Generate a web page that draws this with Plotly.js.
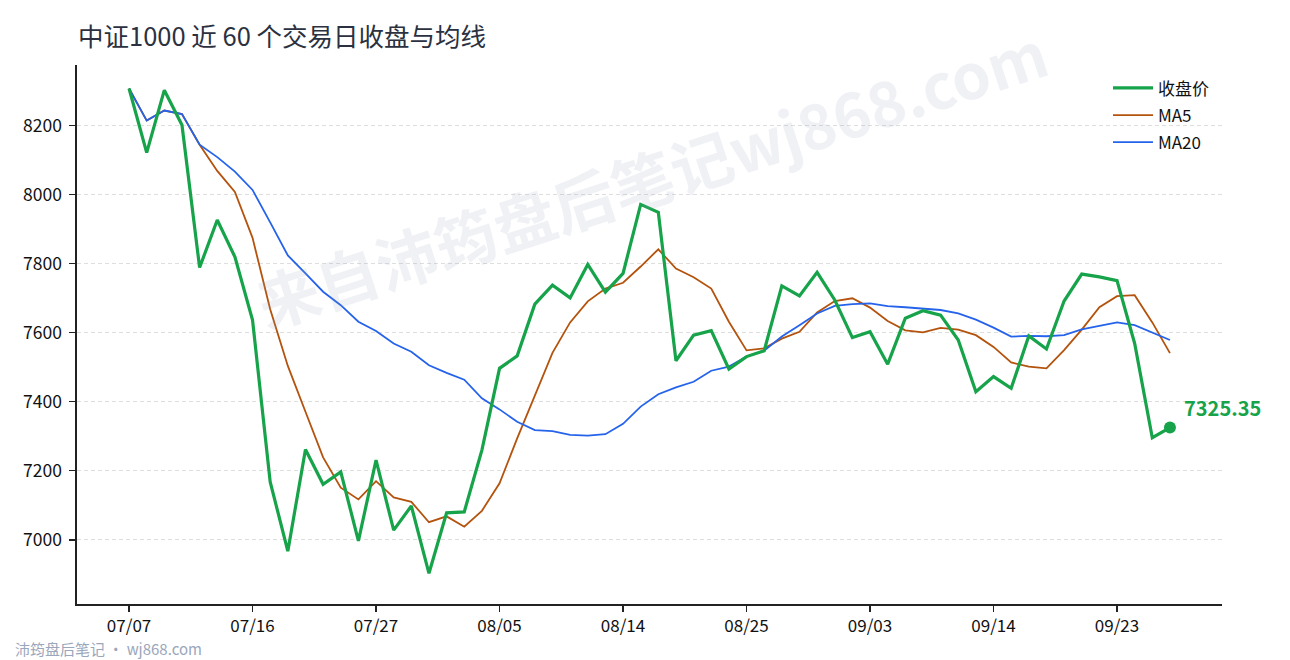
<!DOCTYPE html>
<html>
<head>
<meta charset="utf-8">
<script src="https://cdn.plot.ly/plotly-3.0.1.min.js"></script>
<style>
  html, body { margin: 0; padding: 0; background: #fff; }
  #chart { width: 1290px; height: 660px; }
</style>
</head>
<body>
<div id="chart"></div>
<script>
// trading days (mm/dd)
var dates = [
  '07/07','07/08','07/09','07/10','07/13','07/14','07/15','07/16','07/17','07/20',
  '07/21','07/22','07/23','07/24','07/27','07/28','07/29','07/30','07/31','08/03',
  '08/04','08/05','08/06','08/07','08/10','08/11','08/12','08/13','08/14','08/17',
  '08/18','08/19','08/20','08/21','08/24','08/25','08/26','08/27','08/28','08/31',
  '09/01','09/02','09/03','09/04','09/07','09/08','09/09','09/10','09/11','09/14',
  '09/15','09/16','09/17','09/18','09/21','09/22','09/23','09/24','09/25','09/28'
];

var closeVals = [
  8308, 8122, 8303, 8202, 7789, 7927, 7820, 7637, 7168, 6967,
  7262, 7161, 7197, 6997, 7231, 7028, 7098, 6903, 7078, 7081,
  7260, 7497, 7533, 7683, 7738, 7701, 7798, 7718, 7772, 7972,
  7949, 7519, 7593, 7606, 7495, 7531, 7548, 7736, 7707, 7775,
  7695, 7586, 7603, 7509, 7642, 7664, 7651, 7579, 7429, 7473,
  7439, 7591, 7553, 7692, 7770, 7762, 7751, 7569, 7296, 7325.35
];

var ma5Vals = [
  8308, 8215, 8244, 8234, 8145, 8069, 8008, 7875, 7668, 7504,
  7371, 7239, 7151, 7117, 7170, 7123, 7110, 7051, 7068, 7038,
  7084, 7164, 7294, 7420, 7542, 7630, 7691, 7728, 7745, 7792,
  7842, 7786, 7761, 7728, 7632, 7549, 7555, 7583, 7603, 7659,
  7692, 7700, 7673, 7634, 7607, 7601, 7614, 7609, 7593, 7559,
  7514, 7502, 7497, 7550, 7609, 7674, 7706, 7709, 7630, 7541
];

var ma20Vals = [
  8308, 8215, 8244, 8234, 8145, 8109, 8067, 8014, 7920, 7824,
  7772, 7719, 7680, 7632, 7605, 7569, 7545, 7506, 7484, 7464,
  7410, 7378, 7342, 7318, 7315, 7304, 7302, 7306, 7336, 7386,
  7422, 7442, 7458, 7490, 7502, 7531, 7548, 7589, 7622, 7656,
  7678, 7683, 7685, 7677, 7674, 7671, 7666, 7656, 7638, 7615,
  7589, 7591, 7590, 7593, 7610, 7620, 7630, 7622, 7601, 7579
];

var tickDates = ['07/07','07/16','07/27','08/05','08/14','08/25','09/03','09/14','09/23'];
var yTicks = [7000, 7200, 7400, 7600, 7800, 8000, 8200];

var GREEN = '#16a34a', ORANGE = '#b4530d', BLUE = '#2563eb';
var FONT = '"Noto Sans CJK SC", "Noto Sans", sans-serif';

var last = dates.length - 1;

var data = [
  {
    type: 'scatter', mode: 'lines', name: 'MA5',
    x: dates, y: ma5Vals,
    line: { color: ORANGE, width: 1.8 },
    legendrank: 2, legendgroup: 'b'
  },
  {
    type: 'scatter', mode: 'lines', name: 'MA20',
    x: dates, y: ma20Vals,
    line: { color: BLUE, width: 1.8 },
    legendrank: 3, legendgroup: 'c'
  },
  {
    type: 'scatter', mode: 'lines', name: '收盘价',
    x: dates, y: closeVals,
    line: { color: GREEN, width: 3.2 },
    legendrank: 1, legendgroup: 'a'
  },
  {
    type: 'scatter', mode: 'markers', showlegend: false,
    x: [dates[last]], y: [closeVals[last]],
    marker: { color: GREEN, size: 12 }
  }
];

var layout = {
  width: 1290,
  height: 660,
  margin: { l: 77, r: 68, t: 65, b: 56 },
  paper_bgcolor: '#ffffff',
  plot_bgcolor: '#ffffff',
  font: { family: FONT, size: 17, color: '#222222' },
  title: {
    text: '中证1000 近 60 个交易日收盘与均线',
    x: 78 / 1290, xanchor: 'left', xref: 'container',
    y: 1 - 37 / 660, yanchor: 'middle', yref: 'container',
    font: { family: FONT, size: 25.5, color: '#2b3140' }
  },
  xaxis: {
    type: 'category',
    range: [-2.95, last + 2.95],
    tickmode: 'array',
    tickvals: tickDates,
    ticktext: tickDates,
    showgrid: false,
    zeroline: false,
    showline: true, linecolor: '#222222', linewidth: 1.6,
    ticks: 'outside', ticklen: 6, tickwidth: 1.4, tickcolor: '#222222',
    tickfont: { family: FONT, size: 17, color: '#111111' }
  },
  yaxis: {
    range: [6814, 8376],
    tickmode: 'array',
    tickvals: yTicks,
    showgrid: true, gridcolor: '#dedede', gridwidth: 1, griddash: '4px,3px',
    zeroline: false,
    showline: true, linecolor: '#222222', linewidth: 1.6,
    ticks: 'outside', ticklen: 6, tickwidth: 1.4, tickcolor: '#222222',
    ticklabelstandoff: 4,
    tickfont: { family: FONT, size: 17.5, color: '#111111' }
  },
  legend: {
    x: 0.993, xanchor: 'right', y: 0.99, yanchor: 'top',
    bgcolor: 'rgba(255,255,255,0)',
    font: { family: FONT, size: 17, color: '#111111' },
    tracegroupgap: 2,
    itemwidth: 40
  },
  annotations: [
    {
      xref: 'paper', yref: 'paper',
      x: 0.501, y: 0.794, xanchor: 'center', yanchor: 'middle',
      text: '<b>来自沛筠盘后笔记wj868.com</b>',
      showarrow: false, textangle: -18,
      font: { family: FONT, size: 62, color: 'rgba(150,160,190,0.15)' }
    },
    {
      xref: 'x', yref: 'y',
      x: dates[last], y: closeVals[last],
      text: '<b>' + closeVals[last].toFixed(2) + '</b>',
      showarrow: false, xanchor: 'left', yanchor: 'middle',
      xshift: 12, yshift: 20,
      font: { family: FONT, size: 20, color: GREEN }
    },
    {
      xref: 'paper', yref: 'paper',
      x: -64 / 1145, y: -44 / 539,
      xanchor: 'left', yanchor: 'middle',
      text: '沛筠盘后笔记 · wj868.com',
      showarrow: false,
      font: { family: FONT, size: 15, color: '#9aa6bb' }
    }
  ],
  showlegend: true
};

Plotly.newPlot('chart', data, layout, { displayModeBar: false, staticPlot: true });
</script>
</body>
</html>
